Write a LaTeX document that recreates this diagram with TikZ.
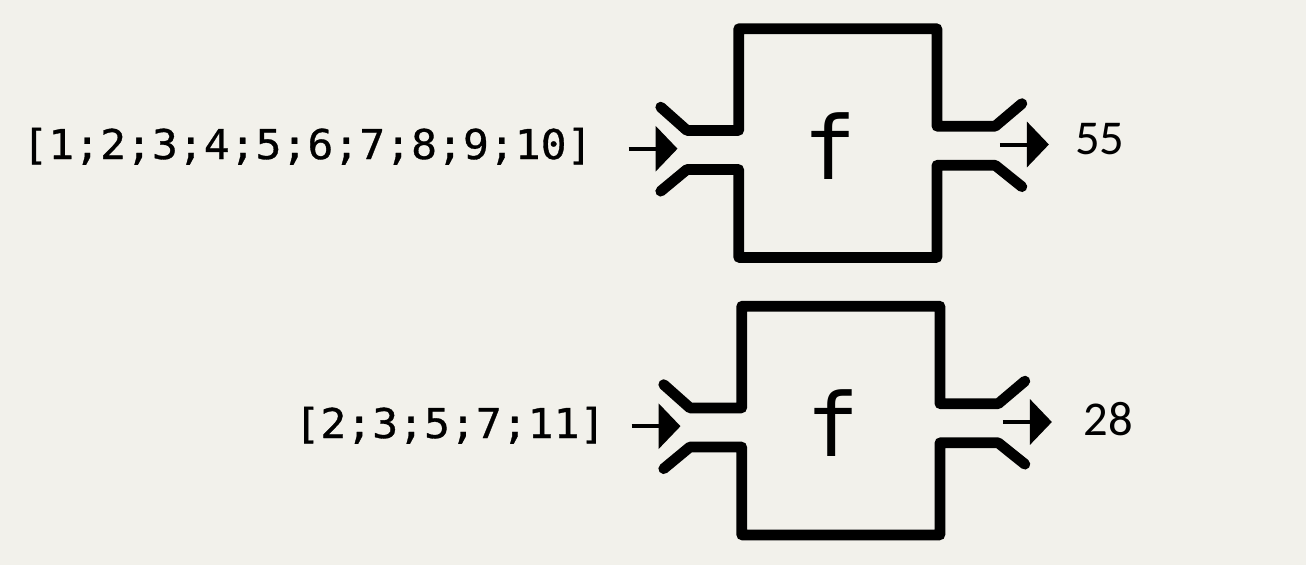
\documentclass[tikz,border=0pt]{standalone}
\usepackage{fontspec}
\setmainfont{Carlito}
\newfontfamily\codefont[FakeStretch=1.05,FakeBold=0.8]{DejaVu Sans Mono}
\newfontfamily\ffont{DejaVu Sans Mono}
\usetikzlibrary{arrows.meta}
\definecolor{bgcol}{RGB}{242,241,235}
\tikzset{
  pipe/.style={line width=10.7pt, line join=round, line cap=round, draw=black},
  flowarrow/.style={line width=4pt, -{Triangle[length=22pt,width=45pt]}},
  codetext/.style={inner sep=0pt, anchor=base, font=\codefont\fontsize{41}{41}\selectfont},
  fname/.style={inner sep=0pt, anchor=base, font=\ffont\fontsize{88}{88}\selectfont},
  outtext/.style={inner sep=0pt, anchor=base west, font=\fontsize{48.6}{48.6}\selectfont},
  machine/.pic={
    \draw[pipe] (-78,78.4) -- (-51.8,101.7) -- (0,101.7) -- (0,0) -- (198.2,0)
      -- (198.2,97.5) -- (256.5,97.5) -- (283.2,74.9);
    \draw[pipe] (-78,162.5) -- (-51.8,140.8) -- (0,140.8) -- (0,228.7) -- (198.2,228.7)
      -- (198.2,136.6) -- (256.5,136.6) -- (283.2,158);
    \coordinate (-instart) at (-110.2,120);
    \coordinate (-intip) at (-61.2,120);
    \coordinate (-outstart) at (261.2,115.8);
    \coordinate (-outtip) at (310.2,115.8);
    \node[fname] (-f) at (91,150.4) {f};
  }
}
\begin{document}
\begin{tikzpicture}[x=1pt,y=-1pt]
  \fill[bgcol] (0,0) rectangle (1306,565);
  \useasboundingbox (0,0) rectangle (1306,565);

  \pic (m1) at (738.7,28.7) {machine};
  \pic (m2) at (741.7,306.2) {machine};

  \node[codetext] (in1) at (307.5,159) {[1;2;3;4;5;6;7;8;9;10]};
  \node[codetext] (in2) at (450,438) {[2;3;5;7;11]};

  \node[outtext] (out1) at (1075,154) {55};
  \node[outtext] (out2) at (1083.3,435) {28};

  \draw[flowarrow] (m1-instart) -- (m1-intip);
  \draw[flowarrow] (m1-outstart) -- (m1-outtip);
  \draw[flowarrow] (m2-instart) -- (m2-intip);
  \draw[flowarrow] (m2-outstart) -- (m2-outtip);
\end{tikzpicture}
\end{document}
